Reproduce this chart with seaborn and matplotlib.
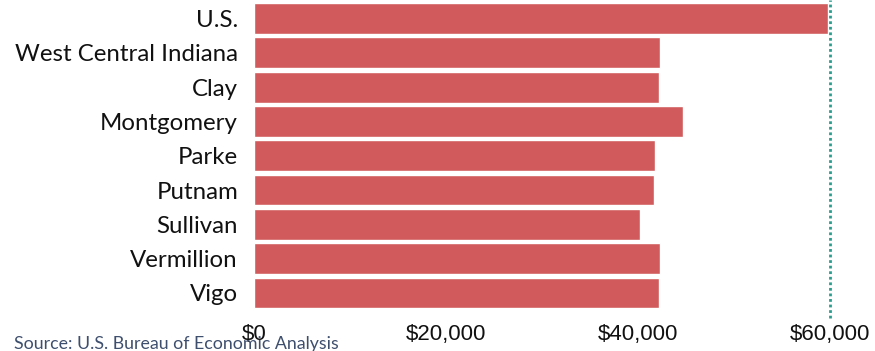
import matplotlib
matplotlib.use("Agg")
import matplotlib.pyplot as plt
import seaborn as sns
import pandas as pd
from matplotlib.ticker import FuncFormatter

regions = ["U.S.", "West Central Indiana", "Clay", "Montgomery", "Parke",
           "Putnam", "Sullivan", "Vermillion", "Vigo"]
income = [59820, 42310, 42210, 44710, 41790, 41690, 40230, 42310, 42210]
x_ticks = [0, 20000, 40000, 60000]
source = "Source: U.S. Bureau of Economic Analysis"

df = pd.DataFrame({"region": regions, "income": income})

sns.set_style("white")
fig = plt.figure(figsize=(8.75, 3.51), dpi=100)
ax = fig.add_axes([254/875, 33/351, (829.7-254)/875, 318/351])

sns.barplot(data=df, y="region", x="income", orient="h", color="#D05A5C",
            saturation=1, width=0.9, ax=ax)

ax.set_xlim(0, 60000)
ax.set_ylim(8.73, -0.54)
ax.set_xticks(x_ticks)
ax.xaxis.set_major_formatter(FuncFormatter(lambda v, p: f"${v:,.0f}"))
ax.set_xlabel("")
ax.set_ylabel("")
for s in ax.spines.values():
    s.set_visible(False)
ax.tick_params(axis="x", length=0, pad=4, labelsize=16, labelcolor="#111111")
ax.tick_params(axis="y", length=0, pad=11.5, labelsize=17.3, labelcolor="#111111")
for lab in ax.get_xticklabels():
    lab.set_fontfamily("Liberation Sans")
for lab in ax.get_yticklabels():
    lab.set_fontfamily("Lato")

ax.axvline(60000, ymin=0, ymax=1, color="#2A9D8F", linestyle=(0, (1, 1)),
           linewidth=2, clip_on=False)

fig.text(14/875, 2/351, source, fontsize=12.8, color="#3E4F6E",
         family="Lato", ha="left", va="baseline")

fig.savefig("out.png", dpi=100)
